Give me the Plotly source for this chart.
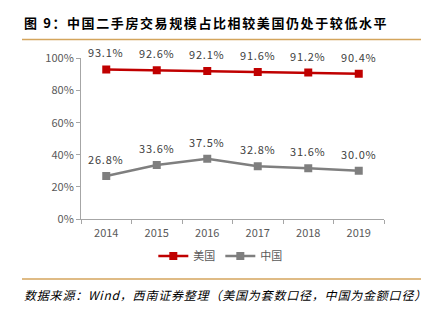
import plotly.graph_objects as go

years = ["2014", "2015", "2016", "2017", "2018", "2019"]
us_share = [93.1, 92.6, 92.1, 91.6, 91.2, 90.4]
cn_share = [26.8, 33.6, 37.5, 32.8, 31.6, 30.0]
y_ticks = [0, 20, 40, 60, 80, 100]
y_tick_labels = ["0%", "20%", "40%", "60%", "80%", "100%"]

title_text = "图 9：中国二手房交易规模占比相较美国仍处于较低水平"
source_text = "数据来源：Wind，西南证券整理（美国为套数口径，中国为金额口径）"

RED = "#C00000"
GRAY = "#7F7F7F"
GOLD = "#D4A55C"
FONT = "Noto Sans CJK SC"

fig = go.Figure()
fig.add_trace(go.Scatter(x=years, y=us_share, name="美国", mode="lines+markers",
                         line=dict(color=RED, width=2.5),
                         marker=dict(symbol="square", size=8, color=RED)))
fig.add_trace(go.Scatter(x=years, y=cn_share, name="中国", mode="lines+markers",
                         line=dict(color=GRAY, width=2.5),
                         marker=dict(symbol="square", size=8, color=GRAY)))

annotations = []
for series in (us_share, cn_share):
    for i, v in enumerate(series):
        annotations.append(dict(x=i, y=v, xref="x", yref="y",
                                text=f'<span style="letter-spacing:0.8px">{v:.1f}%</span>',
                                showarrow=False, yshift=17,
                                font=dict(family=FONT, size=11, color="#404040")))

annotations.append(dict(x=22/432, y=1-14/322, xref="paper", yref="paper",
                        xanchor="left", yanchor="middle", showarrow=False,
                        text=f'<b><span style="letter-spacing:1.6px">{title_text}</span></b>',
                        font=dict(family=FONT, size=13, color="#000000")))
annotations.append(dict(x=22/432, y=1-300/322, xref="paper", yref="paper",
                        xanchor="left", yanchor="middle", showarrow=False,
                        text=f'<i><span style="letter-spacing:0.8px">{source_text}</span></i>',
                        font=dict(family=FONT, size=12, color="#000000")))

shapes = [
    dict(type="line", xref="paper", yref="paper", x0=22/432, x1=421/432,
         y0=1-32/322, y1=1-32/322, line=dict(color=GOLD, width=1.5)),
    dict(type="line", xref="paper", yref="paper", x0=22/432, x1=421/432,
         y0=1-284/322, y1=1-284/322, line=dict(color=GOLD, width=1.5)),
]

fig.update_layout(
    width=432, height=322,
    margin=dict(l=0, r=0, t=0, b=0),
    paper_bgcolor="white", plot_bgcolor="white",
    font=dict(family=FONT, size=11, color="#595959"),
    showlegend=True,
    legend=dict(orientation="h", x=0.51, xanchor="center", y=1-260/322, yanchor="middle",
                font=dict(family=FONT, size=11, color="#595959"),
                itemwidth=30, tracegroupgap=0),
    annotations=annotations,
    shapes=shapes,
)
fig.update_xaxes(domain=[81/432, 384/432], range=[-0.5, 5.5], type="category",
                 showline=True, linecolor="#A6A6A6", linewidth=1,
                 ticks="outside", ticklen=4, tickcolor="#A6A6A6", tickson="boundaries",
                 showgrid=False, ticklabelstandoff=4,
                 tickfont=dict(family=FONT, size=11, color="#595959"))
fig.update_yaxes(domain=[1-221/322, 1-52/322], range=[0, 100],
                 tickvals=y_ticks, ticktext=y_tick_labels,
                 showline=True, linecolor="#A6A6A6", linewidth=1,
                 ticks="outside", ticklen=4, tickcolor="#A6A6A6",
                 showgrid=False, zeroline=False,
                 tickfont=dict(family=FONT, size=11, color="#595959"))

fig.write_html("out.html")
